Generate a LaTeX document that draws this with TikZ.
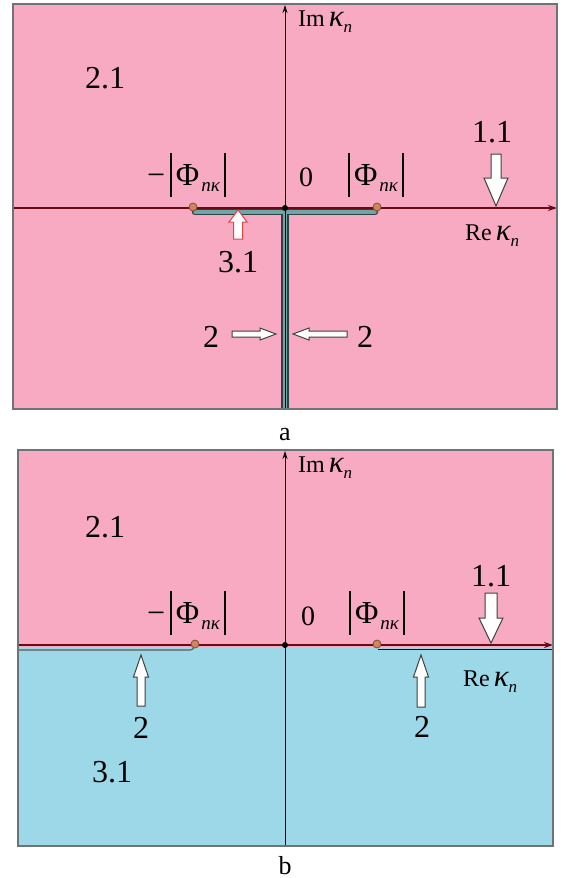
\documentclass[tikz,border=0pt]{standalone}
\usepackage{fontspec}
\setmainfont{Liberation Serif}
\usetikzlibrary{arrows.meta}
\definecolor{pinkbg}{RGB}{248,170,194}
\definecolor{bluebg}{RGB}{156,216,232}
\definecolor{axred}{RGB}{105,10,20}
\definecolor{framegray}{RGB}{110,115,120}
\definecolor{bandfill}{RGB}{110,165,165}
\definecolor{bandedge}{RGB}{45,65,70}
\definecolor{ptfill}{RGB}{205,135,95}
\definecolor{ptedge}{RGB}{140,75,45}
\definecolor{arred}{RGB}{225,70,70}
\newcommand\vb{\rule[-0.37em]{0.065em}{1.37em}}
\newcommand\phisub{Φ\kern0.06em\raisebox{-0.2em}{\fontsize{19}{19}\selectfont\itshape nκ}}
\newcommand\kapn{{\fontsize{31}{31}\selectfont\itshape κ}\raisebox{-0.25em}{\fontsize{17}{17}\selectfont\itshape n}}
\newcommand\fatarr[8]{\draw[#1,shift={(#2,#3)},rotate=#4] (0,0) -- (-#6,#8) -- (-#6,#7) -- (-#5,#7) -- (-#5,-#7) -- (-#6,-#7) -- (-#6,-#8) -- cycle;}
\begin{document}
\begin{tikzpicture}[x=1pt,y=-1pt,
  num/.style={font=\fontsize{32}{32}\selectfont, anchor=base, inner sep=0pt},
  zero/.style={font=\fontsize{28}{28}\selectfont, anchor=base west, inner sep=0pt},
  axlab/.style={font=\fontsize{24}{24}\selectfont, anchor=base west, inner sep=0pt},
  philab/.style={font=\fontsize{32}{32}\selectfont, anchor=base west, inner sep=0pt},
  panlab/.style={font=\fontsize{26}{26}\selectfont, anchor=base, inner sep=0pt},
  pt/.style={circle, inner sep=0pt, minimum size=8pt, fill=ptfill, draw=ptedge, line width=0.8pt},
  orig/.style={circle, inner sep=0pt, minimum size=6pt, fill=black},
  warr/.style={fill=white, draw=black!75, line width=1pt, line join=miter},
  redaxis/.style={axred, line width=2.6pt, -{Stealth[length=9pt,width=6pt]}},
  blackaxis/.style={black, line width=1pt, -{Stealth[length=8pt,width=5pt]}},
  frm/.style={framegray, line width=1.5pt}]
\useasboundingbox (0,0) rectangle (569,878);
\fill[white] (0,0) rectangle (569,878);

% ---------------- panel a ----------------
\fill[pinkbg] (13,4) rectangle (557,409);
\begin{scope}
\clip (13,4) rectangle (557,409);
\draw[bandedge, line width=6.5pt, line cap=round] (195,212) -- (375,212);
\draw[bandedge, line width=7.5pt] (285,212) -- (285,412);
\draw[bandfill, line width=3.5pt, line cap=round] (195,212) -- (375,212);
\draw[bandfill, line width=4.5pt] (285,212) -- (285,412);
\end{scope}
\coordinate (aB) at (285,409);
\coordinate (aT) at (285,5);
\coordinate (aL) at (13,208);
\coordinate (aR) at (557,208);
\draw[blackaxis] (aB) -- (aT);
\draw[redaxis] (aL) -- (aR);
\draw[frm] (13,4) rectangle (557,409);
\node[orig] (aO) at (285,208) {};
\node[pt] (aP1) at (193,207) {};
\node[pt] (aP2) at (377,207) {};

\node[axlab] (aIm) at (298,26) {Im\,\kapn};
\node[axlab] (aRe) at (465,240) {Re\,\kapn};
\node[num] (a21) at (105,88) {2.1};
\node[num] (a11) at (492,142) {1.1};
\node[num] (a31) at (238,272) {3.1};
\node[num] (a2l) at (211,347) {2};
\node[num] (a2r) at (365,347) {2};
\node[zero] (a0) at (299,186) {0};
\node[philab] (aphiL) at (147,185) {−\kern0.15em\vb\kern0.12em\phisub\kern0.12em\vb};
\node[philab] (aphiR) at (348,185) {\vb\kern0.12em\phisub\kern0.12em\vb};

\fatarr{warr}{496}{206}{-90}{52}{28}{5}{12}
\fatarr{warr,draw=arred}{238}{210}{90}{29}{12}{4.5}{9}
\fatarr{warr}{276}{334}{0}{44}{16}{3}{6}
\fatarr{warr}{293}{334}{180}{54}{16}{3}{6}

\node[panlab] (la) at (285,440) {a};

% ---------------- panel b ----------------
\fill[pinkbg] (18,450) rectangle (553,647);
\fill[bluebg] (18,647) rectangle (553,846);
\coordinate (bB) at (285,846);
\coordinate (bT) at (285,451);
\coordinate (bL) at (18,645);
\coordinate (bR) at (553,645);
\draw[blackaxis] (bB) -- (bT);
\draw[black!65, line width=1.1pt, rounded corners=3pt] (18,650) -- (193,650) -- (195,645);
\draw[black, line width=1.1pt] (378,649.5) -- (553,649.5);
\draw[redaxis] (bL) -- (bR);
\draw[frm] (18,450) rectangle (553,846);
\node[orig] (bO) at (285,645) {};
\node[pt] (bP1) at (195,644) {};
\node[pt] (bP2) at (377,644) {};

\node[axlab] (bIm) at (298,472) {Im\,\kapn};
\node[axlab] (bRe) at (463,686) {Re\,\kapn};
\node[num] (b21) at (105,537) {2.1};
\node[num] (b11) at (491,586) {1.1};
\node[num] (b31) at (112,782) {3.1};
\node[num] (b2l) at (141,738) {2};
\node[num] (b2r) at (422,737) {2};
\node[zero] (b0) at (301,625) {0};
\node[philab] (bphiL) at (147,623) {−\kern0.15em\vb\kern0.12em\phisub\kern0.12em\vb};
\node[philab] (bphiR) at (349,623) {\vb\kern0.12em\phisub\kern0.12em\vb};

\fatarr{warr}{491}{643}{-90}{50}{25}{6}{12}
\fatarr{warr}{141}{655}{90}{51}{22}{4}{7.5}
\fatarr{warr}{421}{655}{90}{52}{22}{4}{7.5}

\node[panlab] (lb) at (285,874) {b};
\end{tikzpicture}
\end{document}
